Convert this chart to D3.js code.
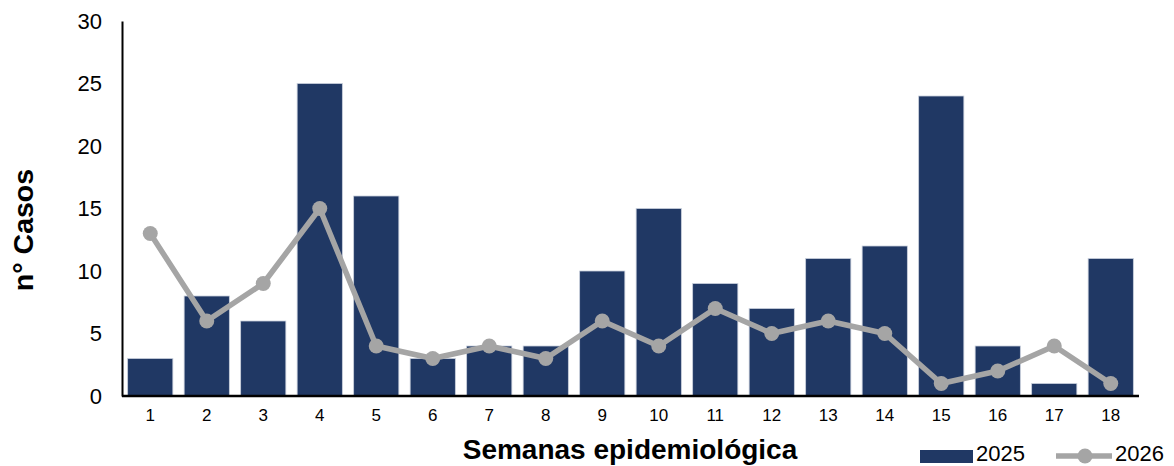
<!DOCTYPE html>
<html><head><meta charset="utf-8">
<script src="https://cdn.jsdelivr.net/npm/d3@7"></script>
<style>body{margin:0;background:#fff}svg{display:block;font-family:"Liberation Sans",Arial,sans-serif}</style>
</head><body><svg id="c" width="1174" height="466"></svg>
<script>
const weeks = ["1","2","3","4","5","6","7","8","9","10","11","12","13","14","15","16","17","18"];
const cases2025 = [3,8,6,25,16,3,4,4,10,15,9,7,11,12,24,4,1,11];
const cases2026 = [13,6,9,15,4,3,4,3,6,4,7,5,6,5,1,2,4,1];
const yTicks = [0,5,10,15,20,25,30];
const seriesNames = ["2025","2026"];

(function(){
const svg = d3.select("#c");
const mLeft = 122, mRight = 1139, mTop = 21, mBottom = 396;
const x = d3.scaleBand().domain(weeks).range([mLeft, mRight]).paddingInner(0.2).paddingOuter(0.1);
const y = d3.scaleLinear().domain([0,30]).range([mBottom, mTop]);
const barColor = "#203864", lineColor = "#A5A5A5";

svg.append("g").selectAll("rect").data(cases2025).join("rect")
  .attr("x",(d,i)=>x(weeks[i])).attr("width",x.bandwidth())
  .attr("y",d=>y(d)).attr("height",d=>mBottom-y(d))
  .attr("fill",barColor).attr("stroke","#c9d0dc").attr("stroke-width",0.8);

const cx = i => x(weeks[i]) + x.bandwidth()/2;
svg.append("path").datum(cases2026)
  .attr("d", d3.line().x((d,i)=>cx(i)).y(d=>y(d)))
  .attr("fill","none").attr("stroke",lineColor).attr("stroke-width",5.5).attr("stroke-linejoin","round");
svg.append("g").selectAll("circle").data(cases2026).join("circle")
  .attr("cx",(d,i)=>cx(i)).attr("cy",d=>y(d)).attr("r",7.5).attr("fill",lineColor);

const yAx = svg.append("g").attr("transform",`translate(${mLeft},0)`)
  .call(d3.axisLeft(y).tickValues(yTicks).tickSize(0).tickPadding(20));
yAx.select(".domain").attr("stroke","#000").attr("stroke-width",2);
yAx.selectAll("text").attr("font-size",22).attr("fill","#000").attr("font-family","Liberation Sans, Arial, sans-serif");

const xAx = svg.append("g").attr("transform",`translate(0,${mBottom})`)
  .call(d3.axisBottom(x).tickSize(0).tickPadding(13));
xAx.select(".domain").attr("stroke","#000").attr("stroke-width",2.5).attr("d",`M${mLeft},0H${mRight}`);
xAx.selectAll("text").attr("font-size",17).attr("fill","#000").attr("font-family","Liberation Sans, Arial, sans-serif");

svg.append("text").attr("transform","translate(33,230) rotate(-90)").attr("text-anchor","middle")
  .attr("font-size",28.5).attr("font-weight","bold").text("n° Casos");
svg.append("text").attr("x",630).attr("y",459).attr("text-anchor","middle")
  .attr("font-size",28).attr("font-weight","bold").text("Semanas epidemiológica");

const lg = svg.append("g");
lg.append("rect").attr("x",920).attr("y",450).attr("width",53).attr("height",13).attr("fill",barColor);
lg.append("text").attr("x",976).attr("y",461).attr("font-size",22).text(seriesNames[0]);
lg.append("line").attr("x1",1056).attr("x2",1112).attr("y1",456).attr("y2",456).attr("stroke",lineColor).attr("stroke-width",5.5);
lg.append("circle").attr("cx",1085).attr("cy",456).attr("r",7.5).attr("fill",lineColor);
lg.append("text").attr("x",1115).attr("y",461).attr("font-size",22).text(seriesNames[1]);
})();
</script></body></html>
